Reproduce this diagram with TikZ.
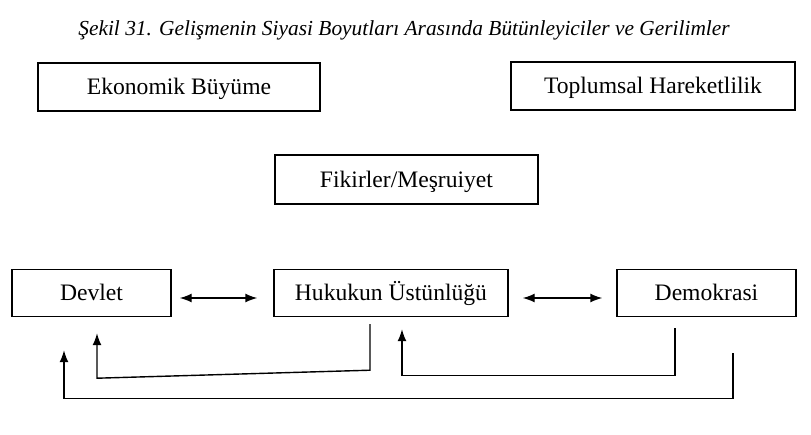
\documentclass[tikz,border=0pt]{standalone}
\usepackage{fontspec}
\setmainfont{Liberation Serif}
\usetikzlibrary{arrows.meta,calc}
\tikzset{
  kutu/.style={rectangle, draw, line width=0.7pt, inner sep=0pt, minimum height=23.5pt, text height=7.8pt, text depth=0pt, font=\fontsize{11.8}{14}\selectfont},
  ok/.style={-{Latex[length=6pt,width=4.5pt]}, line width=0.7pt},
  ciftok/.style={{Latex[length=6pt,width=4.5pt]}-{Latex[length=6pt,width=4.5pt]}, line width=0.7pt},
}
\begin{document}
\begin{tikzpicture}[x=0.5pt,y=-0.5pt]
            \useasboundingbox (0,0) rectangle (811,435);
            \node[font=\fontsize{10.7}{13}\selectfont\itshape] (baslik) at (404,30) {Şekil 31. Gelişmenin Siyasi Boyutları Arasında Bütünleyiciler ve Gerilimler};
            \node[kutu, minimum width=141pt, minimum height=24pt] (eko) at (179,87) {Ekonomik Büyüme};
            \node[kutu, minimum width=142pt, minimum height=24pt] (top) at (653,86) {Toplumsal Hareketlilik};
            \node[kutu, minimum width=131.5pt, minimum height=24.5pt] (fik) at (406.5,179.5) {Fikirler/Meşruiyet};
            \node[kutu, minimum width=79.5pt] (dev) at (91.5,293) {Devlet};
            \node[kutu, minimum width=117pt] (huk) at (391,293) {Hukukun Üstünlüğü};
            \node[kutu, minimum width=89.5pt] (dem) at (706.5,293) {Demokrasi};
            % yatay iki yonlu oklar
            \draw[ciftok] ([xshift=4pt,yshift=-2.5pt]dev.east) -- ([xshift=-8pt,yshift=-2.5pt]huk.west);
            \draw[ciftok] ([xshift=7pt,yshift=-2.5pt]huk.east) -- ([xshift=-7pt,yshift=-2.5pt]dem.west);
            % geri donus oklari
            \draw[ok] ([xshift=-10.5pt,yshift=-3.5pt]huk.south) -- ++(0,46) -- ($(dev.south)+(5.5,61)$) -- ([xshift=2.75pt,yshift=-8pt]dev.south);
            \draw[ok] ([xshift=-15.75pt,yshift=-5.5pt]dem.south) -- ++(0,47) -| ([xshift=5.5pt,yshift=-6pt]huk.south);
            \draw[ok] ([xshift=13.25pt,yshift=-18pt]dem.south) -- ++(0,45) -| ([xshift=-13.75pt,yshift=-16.5pt]dev.south);
\end{tikzpicture}
\end{document}
